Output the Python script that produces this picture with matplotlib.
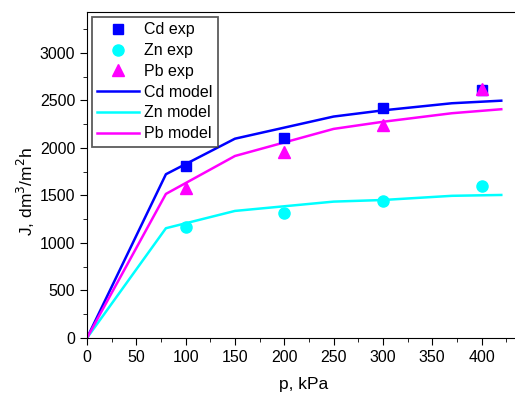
import numpy as np
import matplotlib
matplotlib.use("Agg")
import matplotlib.pyplot as plt
from matplotlib.ticker import MultipleLocator

plt.rcParams['font.family'] = ['Liberation Sans', 'DejaVu Sans']

# experimental points
p_exp = [100, 200, 300, 400]
cd_exp = [1814, 2102, 2417, 2605]
zn_exp = [1172, 1312, 1438, 1595]
pb_exp = [1575, 1961, 2245, 2618]

# model curves
p_model = [0, 80, 150, 250, 300, 370, 420]
cd_model = [0, 1723, 2097, 2330, 2395, 2470, 2497]
zn_model = [0, 1155, 1337, 1435, 1452, 1496, 1505]
pb_model = [0, 1516, 1915, 2200, 2275, 2365, 2407]

fig = plt.figure(figsize=(5.15, 3.96), dpi=100)
ax = fig.add_axes([87/515, 58/396, 434/515, 326/396])

ax.plot(p_exp, cd_exp, 's', color='#0000ff', markersize=7, label='Cd exp', zorder=3)
ax.plot(p_exp, zn_exp, 'o', color='#00ffff', markersize=8, label='Zn exp', zorder=3)
ax.plot(p_exp, pb_exp, '^', color='#ff00ff', markersize=8, label='Pb exp', zorder=3)
ax.plot(p_model, cd_model, '-', color='#0000ff', lw=1.8, label='Cd model')
ax.plot(p_model, zn_model, '-', color='#00ffff', lw=1.8, label='Zn model')
ax.plot(p_model, pb_model, '-', color='#ff00ff', lw=1.8, label='Pb model')

ax.set_xlim(0, 440)
ax.set_ylim(0, 3430)
ax.xaxis.set_major_locator(MultipleLocator(50))
ax.xaxis.set_minor_locator(MultipleLocator(25))
ax.yaxis.set_major_locator(MultipleLocator(500))
ax.yaxis.set_minor_locator(MultipleLocator(250))
ax.tick_params(which='major', direction='out', length=5, labelsize=11.5, top=False, right=False)
ax.tick_params(which='minor', direction='out', length=3, top=False, right=False)

ax.set_xlabel('p, kPa', fontsize=12.5, labelpad=9)
ax.set_ylabel('J, dm$^3$/m$^2$h', fontsize=12.5)
ax.yaxis.set_label_coords(-0.116, 0.45)

leg = ax.legend(loc='upper left', fontsize=11.5, frameon=True, fancybox=False,
                handlelength=2.6, handletextpad=0.3, borderpad=0.35,
                labelspacing=0.36, borderaxespad=0.3)
leg.get_frame().set_edgecolor('#333333')
leg.get_frame().set_linewidth(1.3)

fig.savefig('out.png', dpi=100)
